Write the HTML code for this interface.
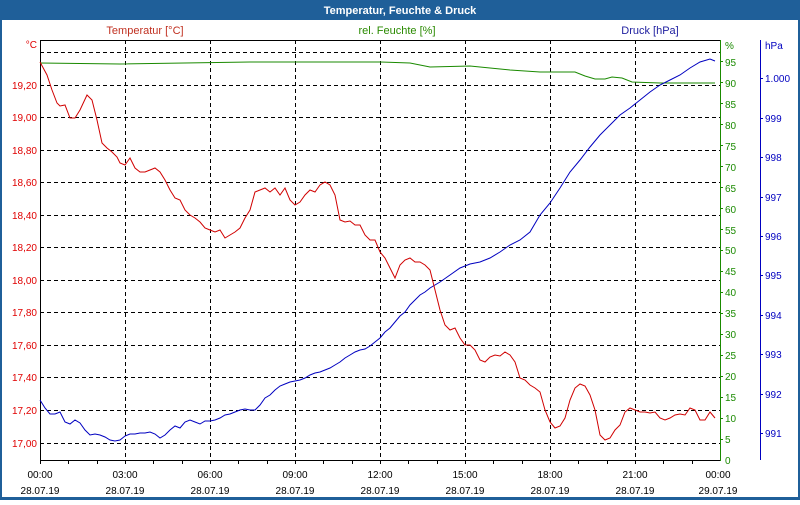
<!DOCTYPE html>
<html><head><meta charset="utf-8"><style>
body{margin:0;width:800px;height:500px;overflow:hidden;background:#fff;font-family:"Liberation Sans",sans-serif}
</style></head><body>
<svg width="800" height="500" xmlns="http://www.w3.org/2000/svg" font-family="Liberation Sans, sans-serif" font-size="11">
<rect x="0" y="0" width="800" height="500" fill="#1f5f99"/>
<rect x="2" y="20" width="796" height="477" fill="#fff"/>
<text x="400" y="14" fill="#fff" font-weight="bold" text-anchor="middle" font-size="11">Temperatur, Feuchte &amp; Druck</text>
<text x="145" y="34" fill="#c03020" text-anchor="middle">Temperatur [°C]</text>
<text x="397" y="34" fill="#2a8a00" text-anchor="middle">rel. Feuchte [%]</text>
<text x="650" y="34" fill="#2020a0" text-anchor="middle">Druck [hPa]</text>
<g stroke="#000" stroke-dasharray="4,3" stroke-width="1">
<line x1="40" x2="720" y1="52.5" y2="52.5"/><line x1="40" x2="720" y1="85.5" y2="85.5"/><line x1="40" x2="720" y1="117.5" y2="117.5"/><line x1="40" x2="720" y1="150.5" y2="150.5"/><line x1="40" x2="720" y1="182.5" y2="182.5"/><line x1="40" x2="720" y1="215.5" y2="215.5"/><line x1="40" x2="720" y1="247.5" y2="247.5"/><line x1="40" x2="720" y1="280.5" y2="280.5"/><line x1="40" x2="720" y1="312.5" y2="312.5"/><line x1="40" x2="720" y1="345.5" y2="345.5"/><line x1="40" x2="720" y1="377.5" y2="377.5"/><line x1="40" x2="720" y1="410.5" y2="410.5"/><line x1="40" x2="720" y1="443.5" y2="443.5"/>
<line x1="125.5" x2="125.5" y1="40" y2="460"/><line x1="210.5" x2="210.5" y1="40" y2="460"/><line x1="295.5" x2="295.5" y1="40" y2="460"/><line x1="380.5" x2="380.5" y1="40" y2="460"/><line x1="465.5" x2="465.5" y1="40" y2="460"/><line x1="550.5" x2="550.5" y1="40" y2="460"/><line x1="635.5" x2="635.5" y1="40" y2="460"/>
</g>
<line x1="40" x2="720" y1="40.5" y2="40.5" stroke="#000"/>
<line x1="40.5" x2="40.5" y1="40" y2="461" stroke="#000"/>
<line x1="40" x2="720" y1="460.5" y2="460.5" stroke="#000"/>
<g stroke="#000"><line x1="40.5" x2="40.5" y1="460" y2="464"/><line x1="68.5" x2="68.5" y1="460" y2="464"/><line x1="97.5" x2="97.5" y1="460" y2="464"/><line x1="125.5" x2="125.5" y1="460" y2="464"/><line x1="153.5" x2="153.5" y1="460" y2="464"/><line x1="182.5" x2="182.5" y1="460" y2="464"/><line x1="210.5" x2="210.5" y1="460" y2="464"/><line x1="238.5" x2="238.5" y1="460" y2="464"/><line x1="267.5" x2="267.5" y1="460" y2="464"/><line x1="295.5" x2="295.5" y1="460" y2="464"/><line x1="323.5" x2="323.5" y1="460" y2="464"/><line x1="352.5" x2="352.5" y1="460" y2="464"/><line x1="380.5" x2="380.5" y1="460" y2="464"/><line x1="408.5" x2="408.5" y1="460" y2="464"/><line x1="437.5" x2="437.5" y1="460" y2="464"/><line x1="465.5" x2="465.5" y1="460" y2="464"/><line x1="493.5" x2="493.5" y1="460" y2="464"/><line x1="522.5" x2="522.5" y1="460" y2="464"/><line x1="550.5" x2="550.5" y1="460" y2="464"/><line x1="578.5" x2="578.5" y1="460" y2="464"/><line x1="607.5" x2="607.5" y1="460" y2="464"/><line x1="635.5" x2="635.5" y1="460" y2="464"/><line x1="663.5" x2="663.5" y1="460" y2="464"/><line x1="692.5" x2="692.5" y1="460" y2="464"/></g>
<g fill="#000" text-anchor="middle" font-size="10">
<text x="40" y="478">00:00</text><text x="40" y="494">28.07.19</text>
<text x="125" y="478">03:00</text><text x="125" y="494">28.07.19</text>
<text x="210" y="478">06:00</text><text x="210" y="494">28.07.19</text>
<text x="295" y="478">09:00</text><text x="295" y="494">28.07.19</text>
<text x="380" y="478">12:00</text><text x="380" y="494">28.07.19</text>
<text x="465" y="478">15:00</text><text x="465" y="494">28.07.19</text>
<text x="550" y="478">18:00</text><text x="550" y="494">28.07.19</text>
<text x="635" y="478">21:00</text><text x="635" y="494">28.07.19</text>
<text x="718" y="478">00:00</text><text x="718" y="494">29.07.19</text>
</g>
<g fill="#e00000" text-anchor="end" font-size="10">
<text x="37" y="48">°C</text>
<text x="37" y="89">19,20</text><text x="37" y="121">19,00</text><text x="37" y="154">18,80</text><text x="37" y="186">18,60</text><text x="37" y="219">18,40</text><text x="37" y="251">18,20</text><text x="37" y="284">18,00</text><text x="37" y="316">17,80</text><text x="37" y="349">17,60</text><text x="37" y="381">17,40</text><text x="37" y="414">17,20</text><text x="37" y="447">17,00</text>
</g>
<line x1="720.5" x2="720.5" y1="40" y2="461" stroke="#1a8a00"/>
<g fill="#1a8a00" font-size="10">
<text x="725" y="49">%</text>
<text x="725" y="66">95</text><text x="725" y="87">90</text><text x="725" y="108">85</text><text x="725" y="129">80</text><text x="725" y="150">75</text><text x="725" y="171">70</text><text x="725" y="192">65</text><text x="725" y="213">60</text><text x="725" y="234">55</text><text x="725" y="254">50</text><text x="725" y="275">45</text><text x="725" y="296">40</text><text x="725" y="317">35</text><text x="725" y="338">30</text><text x="725" y="359">25</text><text x="725" y="380">20</text><text x="725" y="401">15</text><text x="725" y="422">10</text><text x="725" y="443">5</text><text x="725" y="464">0</text>
</g>
<g stroke="#1a8a00"><line x1="720" x2="723" y1="61.5" y2="61.5"/><line x1="720" x2="723" y1="82.5" y2="82.5"/><line x1="720" x2="723" y1="103.5" y2="103.5"/><line x1="720" x2="723" y1="124.5" y2="124.5"/><line x1="720" x2="723" y1="145.5" y2="145.5"/><line x1="720" x2="723" y1="166.5" y2="166.5"/><line x1="720" x2="723" y1="187.5" y2="187.5"/><line x1="720" x2="723" y1="208.5" y2="208.5"/><line x1="720" x2="723" y1="229.5" y2="229.5"/><line x1="720" x2="723" y1="250.5" y2="250.5"/><line x1="720" x2="723" y1="271.5" y2="271.5"/><line x1="720" x2="723" y1="292.5" y2="292.5"/><line x1="720" x2="723" y1="313.5" y2="313.5"/><line x1="720" x2="723" y1="334.5" y2="334.5"/><line x1="720" x2="723" y1="355.5" y2="355.5"/><line x1="720" x2="723" y1="376.5" y2="376.5"/><line x1="720" x2="723" y1="397.5" y2="397.5"/><line x1="720" x2="723" y1="418.5" y2="418.5"/><line x1="720" x2="723" y1="439.5" y2="439.5"/></g>
<line x1="760.5" x2="760.5" y1="40" y2="460" stroke="#0000c0"/>
<g fill="#0000c0" font-size="10">
<text x="765" y="49">hPa</text>
<text x="765" y="82">1.000</text><text x="765" y="122">999</text><text x="765" y="161">998</text><text x="765" y="201">997</text><text x="765" y="240">996</text><text x="765" y="279">995</text><text x="765" y="319">994</text><text x="765" y="358">993</text><text x="765" y="398">992</text><text x="765" y="437">991</text>
</g>
<g stroke="#0000c0"><line x1="760" x2="763" y1="78.5" y2="78.5"/><line x1="760" x2="763" y1="118.5" y2="118.5"/><line x1="760" x2="763" y1="157.5" y2="157.5"/><line x1="760" x2="763" y1="197.5" y2="197.5"/><line x1="760" x2="763" y1="236.5" y2="236.5"/><line x1="760" x2="763" y1="275.5" y2="275.5"/><line x1="760" x2="763" y1="315.5" y2="315.5"/><line x1="760" x2="763" y1="354.5" y2="354.5"/><line x1="760" x2="763" y1="394.5" y2="394.5"/><line x1="760" x2="763" y1="433.5" y2="433.5"/></g>
<polyline fill="none" stroke="#1a8a00" stroke-width="1" points="40,63 120,64 250,62 380,62 410,63 420,65 430,67 470,66 490,68 510,70 540,72 575,72 585,76 595,79 605,79 612,77 622,78 632,82 660,83 715,83"/>
<polyline fill="none" stroke="#0000c0" stroke-width="1" points="40,400 45,408 50,414 55,414 60,412 65,422 70,424 75,420 80,423 85,430 90,435 95,434 100,435 105,437 110,440 115,441 120,440 125,436 130,434 135,434 140,433 145,433 150,432 155,434 160,438 165,435 170,430 175,426 180,428 185,422 190,420 195,422 200,424 205,421 210,421 215,420 220,418 225,415 230,414 235,412 240,410 245,409 250,410 255,410 260,405 265,398 270,395 275,390 280,386 285,384 290,382 295,381 300,380 305,378 310,375 315,373 320,372 325,370 330,368 335,365 340,362 345,358 350,355 355,352 360,350 365,349 370,346 375,342 380,338 385,332 390,328 395,322 400,316 405,312 410,305 415,300 420,295 425,292 430,288 440,282 450,275 460,268 470,264 480,262 490,258 500,252 510,245 520,240 530,232 540,215 550,203 560,188 570,172 580,160 590,147 600,135 610,125 620,115 630,108 640,100 650,92 660,85 670,80 680,75 690,68 700,62 710,59 715,61"/>
<polyline fill="none" stroke="#d00000" stroke-width="1" points="40,62 47,75 52,90 57,103 60,106 65,105 70,118 75,118 80,110 87,95 92,100 97,120 102,143 107,148 112,152 117,157 120,163 125,165 130,158 135,168 140,172 145,172 150,170 155,168 160,172 165,180 170,190 175,198 180,200 185,210 190,215 195,218 200,222 205,228 210,230 215,232 220,230 225,238 230,235 235,232 240,228 245,218 250,210 255,192 260,190 265,188 270,192 275,188 280,195 285,188 290,200 295,205 300,202 305,195 310,190 315,192 320,185 325,182 330,185 335,195 340,220 345,222 350,221 355,225 360,225 365,235 370,240 375,240 380,252 385,258 390,268 395,278 400,265 405,260 410,258 415,262 420,262 425,265 430,270 435,290 440,310 445,325 450,330 455,328 460,338 465,345 470,345 475,350 480,360 485,362 490,357 495,355 500,356 505,352 510,355 515,362 520,378 525,380 530,385 535,388 540,392 545,410 550,422 555,428 560,426 565,418 570,400 575,388 580,384 585,386 590,395 595,410 600,435 605,440 610,438 615,430 620,425 625,412 630,408 635,410 640,412 645,412 650,413 655,412 660,418 665,420 670,418 675,415 680,414 685,415 690,408 695,410 700,420 705,420 710,412 715,418"/>
</svg>
</body></html>
